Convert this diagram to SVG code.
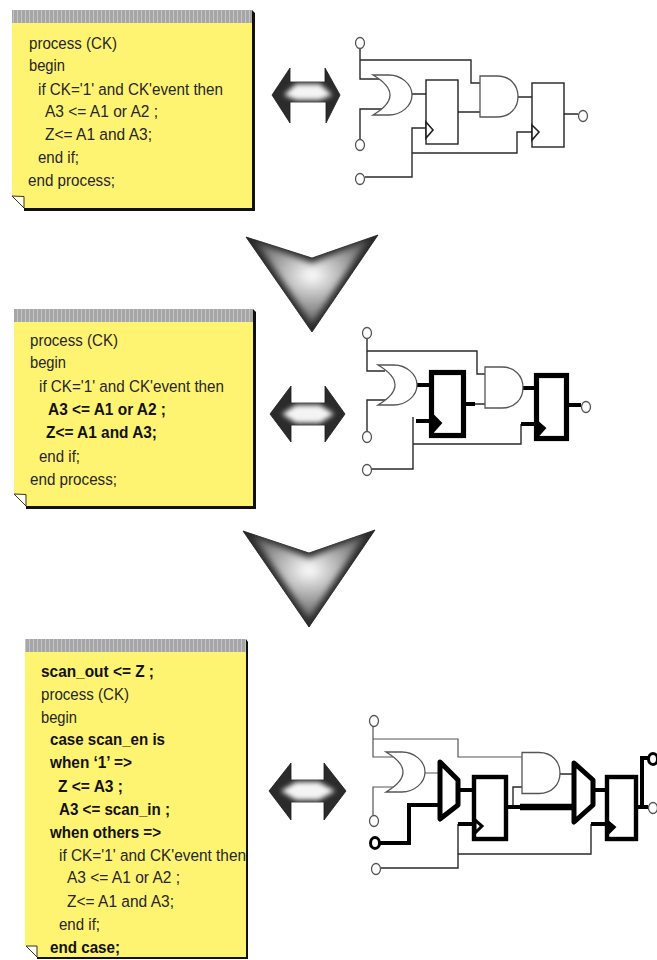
<svg xmlns="http://www.w3.org/2000/svg" width="657" height="960" viewBox="0 0 657 960">
<style>
.paper{fill:#fff372}
.shadow{fill:#111}
.head{fill:url(#ticks)}
.fold{fill:#fffde8;stroke:#333;stroke-width:1}
text{font-family:"Liberation Sans",Arial,sans-serif;font-size:16.8px;fill:#262626}
.b{font-weight:bold;fill:#111}
.w{fill:none;stroke:#2a2a2a;stroke-width:1.4}
.g{fill:none;stroke:#555;stroke-width:1.2}
.t{fill:none;stroke:#000;stroke-width:4}
.p{fill:#fff;stroke:#555;stroke-width:1.3}
.ff{fill:#fff;stroke:#222;stroke-width:1.4}
.ffb{fill:#fff;stroke:#000;stroke-width:5.200}
.clk{fill:#fff;stroke:#222;stroke-width:1.6}
.clkb{fill:#000;stroke:#000;stroke-width:2}
.gate{fill:#fff;stroke:#555;stroke-width:1.3}
.mux{fill:#fff;stroke:#000;stroke-width:5;stroke-linejoin:round}
.dark{fill:#2b2b2b;stroke:#1a1a1a;stroke-width:.8}
.glow{fill:url(#metal);filter:url(#soft)}
</style>
<defs>
<pattern id="ticks" width="4" height="14" patternUnits="userSpaceOnUse">
<rect width="4" height="14" fill="#a6a6a6"/><rect x="1" width="1" height="14" fill="#c4c4c4"/>
</pattern>
<radialGradient id="metal" cx="0.5" cy="0.42" r="0.55">
<stop offset="0" stop-color="#ffffff"/><stop offset="0.35" stop-color="#c8c8c8"/><stop offset="1" stop-color="#6a6a6a"/>
</radialGradient>
<filter id="soft" x="-20%" y="-20%" width="140%" height="140%"><feGaussianBlur stdDeviation="3"/></filter>
<filter id="softS" x="-20%" y="-20%" width="140%" height="140%"><feGaussianBlur stdDeviation="2.500"/></filter>
<clipPath id="cv1"><polygon points="246,237 312,258 378,235 312,332"/></clipPath>
<clipPath id="cv2"><polygon points="243,531 309,553 375,530 309,627"/></clipPath>
<clipPath id="ca1"><polygon points="272,95 290,68 290,82 325,82 325,68 340,95 326,123 326,102 290,102 290,123"/></clipPath>
<clipPath id="ca2"><polygon points="270,414 291,386 291,403 325,403 325,386 345,414 325,442 325,425 291,425 291,442"/></clipPath>
<clipPath id="ca3"><polygon points="269,791 291,763 291,780 324,780 324,763 346,791 324,820 324,802 291,802 291,820"/></clipPath>
<path id="or" d="M0,0 H16 C28,0 39,9 39,20 C39,31 28,40 16,40 H0 Q17,30 17,20 Q17,10 0,0Z"/>
<path id="and" d="M0,0 H17 C30,0 38,9 38,20.500 C38,32 30,41 17,41 H0Z"/>
</defs>

<g id="note1">
<polygon class="shadow" points="24,211 255,211 255,13 252,10 252,208 24,208"/>
<polygon class="paper" points="12,10 252,10 252,208 24,208 12,196"/>
<rect class="head" x="12" y="10" width="240" height="13"/>
<polygon class="fold" points="12,196 24,196.500 24,208"/>
<text x="29" y="49" textLength="88" lengthAdjust="spacingAndGlyphs">process (CK)</text>
<text x="29" y="71" textLength="36" lengthAdjust="spacingAndGlyphs">begin</text>
<text x="38" y="95" textLength="185" lengthAdjust="spacingAndGlyphs">if CK='1' and CK'event then</text>
<text x="45" y="117" textLength="113" lengthAdjust="spacingAndGlyphs">A3 &lt;= A1 or A2 ;</text>
<text x="45" y="140" textLength="107" lengthAdjust="spacingAndGlyphs">Z&lt;= A1 and A3;</text>
<text x="38" y="163" textLength="41" lengthAdjust="spacingAndGlyphs">end if;</text>
<text x="28" y="186" textLength="87" lengthAdjust="spacingAndGlyphs">end process;</text>
</g>
<g id="note2">
<polygon class="shadow" points="26,509 256,509 256,312 253,309 253,506 26,506"/>
<polygon class="paper" points="14,309 253,309 253,506 26,506 14,494"/>
<rect class="head" x="14" y="309" width="239" height="13"/>
<polygon class="fold" points="14,494 26,494.500 26,506"/>
<text x="30" y="346" textLength="88" lengthAdjust="spacingAndGlyphs">process (CK)</text>
<text x="30" y="368" textLength="36" lengthAdjust="spacingAndGlyphs">begin</text>
<text x="39" y="392" textLength="185" lengthAdjust="spacingAndGlyphs">if CK='1' and CK'event then</text>
<text class="b" x="48" y="415" textLength="118" lengthAdjust="spacingAndGlyphs">A3 &lt;= A1 or A2 ;</text>
<text class="b" x="46" y="438" textLength="111" lengthAdjust="spacingAndGlyphs">Z&lt;= A1 and A3;</text>
<text x="39" y="462" textLength="41" lengthAdjust="spacingAndGlyphs">end if;</text>
<text x="30" y="485" textLength="87" lengthAdjust="spacingAndGlyphs">end process;</text>
</g>
<g id="note3">
<polygon class="shadow" points="37,959 248,959 248,642 246,639 246,957 37,957"/>
<polygon class="paper" points="25,639 246,639 246,957 37,957 25,945"/>
<rect class="head" x="25" y="639" width="221" height="13"/>
<polygon class="fold" points="26,946 37,946 37,957"/>
<text class="b" x="41" y="677" textLength="113" lengthAdjust="spacingAndGlyphs">scan_out &lt;= Z ;</text>
<text x="41" y="700" textLength="88" lengthAdjust="spacingAndGlyphs">process (CK)</text>
<text x="41" y="723" textLength="36" lengthAdjust="spacingAndGlyphs">begin</text>
<text class="b" x="50" y="745" textLength="115" lengthAdjust="spacingAndGlyphs">case scan_en is</text>
<text class="b" x="50" y="768" textLength="82" lengthAdjust="spacingAndGlyphs">when ‘1’ =&gt;</text>
<text class="b" x="58" y="792" textLength="65" lengthAdjust="spacingAndGlyphs">Z &lt;= A3 ;</text>
<text class="b" x="59" y="815" textLength="111" lengthAdjust="spacingAndGlyphs">A3 &lt;= scan_in ;</text>
<text class="b" x="50" y="838" textLength="111" lengthAdjust="spacingAndGlyphs">when others =&gt;</text>
<text x="59" y="861" textLength="187" lengthAdjust="spacingAndGlyphs">if CK='1' and CK'event then</text>
<text x="67" y="883" textLength="113" lengthAdjust="spacingAndGlyphs">A3 &lt;= A1 or A2 ;</text>
<text x="67" y="907" textLength="107" lengthAdjust="spacingAndGlyphs">Z&lt;= A1 and A3;</text>
<text x="59" y="930" textLength="41" lengthAdjust="spacingAndGlyphs">end if;</text>
<text class="b" x="50" y="953" textLength="70" lengthAdjust="spacingAndGlyphs">end case;</text>
</g>

<g id="arrow1"><polygon class="dark" points="272,95 290,68 290,82 325,82 325,68 340,95 326,123 326,102 290,102 290,123"/>
<g clip-path="url(#ca1)"><polygon points="284,95 296,84 320,84 332,95 320,100 296,100" fill="#f4f4f4" filter="url(#softS)"/></g></g>
<g id="arrow2"><polygon class="dark" points="270,414 291,386 291,403 325,403 325,386 345,414 325,442 325,425 291,425 291,442"/>
<g clip-path="url(#ca2)"><polygon points="282,414 296,405 320,405 334,414 320,423 296,423" fill="#f4f4f4" filter="url(#softS)"/></g></g>
<g id="arrow3"><polygon class="dark" points="269,791 291,763 291,780 324,780 324,763 346,791 324,820 324,802 291,802 291,820"/>
<g clip-path="url(#ca3)"><polygon points="281,791 296,782 319,782 335,791 319,800 296,800" fill="#f4f4f4" filter="url(#softS)"/></g></g>
<g id="chevron1"><polygon class="dark" points="246,237 312,258 378,235 312,332"/>
<g clip-path="url(#cv1)"><polygon class="glow" points="256,242 312,263 368,240 312,324"/></g></g>
<g id="chevron2"><polygon class="dark" points="243,531 309,553 375,530 309,627"/>
<g clip-path="url(#cv2)"><polygon class="glow" points="253,536 309,558 365,535 309,619"/></g></g>

<g id="connectors">
<path class="w" d="M360,48V79H384M360,60H471V83H482M360,140V109H384"/>
<path class="w" d="M412,94H426M458,112H480M518,97H532M564,114H578"/>
<path class="w" d="M365,177H412V128H426M412,153H517V132H532"/>

<path class="w" d="M367,338V371H385M367,351H477V374H485M367,432V400H388"/>
<path class="w" d="M372,469H413V417M413,444H521V424M466,404H485"/>
<path class="t" d="M417,385H430M416,421H432M466,404H475M522,388H535M521,424H537M569,405H581"/>

<path class="g" d="M373,726V757H393M373,739H458V757H522M373,815V787H395M424,773H440"/>
<path class="w" d="M381,868H458V824M458,854H591V824M513,807V787H522M558,774H574"/>
<path class="t" d="M380,843H409V805H440M460,790H473M458,824H474M507,807H520M591,824H607M594,790H606M637,807H648M648,758H642V807"/>
<path d="M520,807H574" fill="none" stroke="#000" stroke-width="6.500"/>
</g>

<g id="circuit1">
<g id="c1-in1"><ellipse class="p" cx="360" cy="43" rx="4.500" ry="5.500"/></g>
<g id="c1-in2"><ellipse class="p" cx="360" cy="145" rx="4.500" ry="5.500"/></g>
<g id="c1-ck"><ellipse class="p" cx="360" cy="179" rx="4.500" ry="5.500"/></g>
<g id="c1-out"><ellipse class="p" cx="583" cy="116" rx="4.500" ry="5.500"/></g>
<g id="c1-or"><use href="#or" x="373" y="75" class="gate"/></g>
<g id="c1-and"><use href="#and" x="480" y="76" class="gate"/></g>
<g id="c1-ff1"><rect class="ff" x="426" y="80" width="32" height="64"/><polygon class="clk" points="426,122 433,130 426,138"/></g>
<g id="c1-ff2"><rect class="ff" x="532" y="83" width="32" height="64"/><polygon class="clk" points="532,125 539,132 532,140"/></g>
</g>

<g id="circuit2">
<g id="c2-in1"><ellipse class="p" cx="367" cy="333" rx="4.500" ry="5.500"/></g>
<g id="c2-in2"><ellipse class="p" cx="367" cy="437" rx="4.500" ry="5.500"/></g>
<g id="c2-ck"><ellipse class="p" cx="367" cy="470" rx="4.500" ry="5.500"/></g>
<g id="c2-out"><ellipse class="p" cx="586" cy="407" rx="4.500" ry="5.500"/></g>
<g id="c2-or"><use href="#or" x="378" y="365" class="gate"/></g>
<g id="c2-and"><use href="#and" x="485" y="367" class="gate"/></g>
<g id="c2-ff1"><rect class="ffb" x="431.500" y="372.500" width="32" height="63"/><polygon class="clkb" points="433,415 441,423 433,432"/></g>
<g id="c2-ff2"><rect class="ffb" x="536.500" y="375.500" width="30" height="63"/><polygon class="clkb" points="538,422 545,428 538,436"/></g>
</g>

<g id="circuit3">
<g id="c3-in1"><ellipse class="p" cx="374" cy="721" rx="4.500" ry="5.500"/></g>
<g id="c3-in2"><ellipse class="p" cx="374" cy="821" rx="4.500" ry="5.500"/></g>
<g id="c3-scanin"><ellipse cx="375" cy="843" rx="4.500" ry="5.500" fill="#fff" stroke="#000" stroke-width="3"/></g>
<g id="c3-ck"><ellipse class="p" cx="376" cy="869" rx="4.500" ry="5.500"/></g>
<g id="c3-scanout"><ellipse cx="653" cy="759" rx="4.500" ry="5.500" fill="#fff" stroke="#000" stroke-width="3"/></g>
<g id="c3-out"><ellipse class="p" cx="653" cy="808" rx="4.500" ry="5.500"/></g>
<g id="c3-or"><use href="#or" x="386" y="752" class="gate"/></g>
<g id="c3-and"><use href="#and" x="522" y="752.500" class="gate"/></g>
<g id="c3-mux1"><polygon class="mux" points="440,762 458,780 458,805 440,819"/></g>
<g id="c3-mux2"><polygon class="mux" points="574,763 593,780 593,805 574,822"/></g>
<g id="c3-ff1"><rect class="ffb" style="stroke-width:4.400" x="474" y="777" width="32" height="62"/><polygon points="475,820 482,826 475,833" fill="#fff" stroke="#000" stroke-width="3"/></g>
<g id="c3-ff2"><rect class="ffb" style="stroke-width:4.400" x="607" y="777" width="29" height="62"/><polygon class="clkb" points="609,822 615,827 609,833"/></g>
</g>
</svg>
